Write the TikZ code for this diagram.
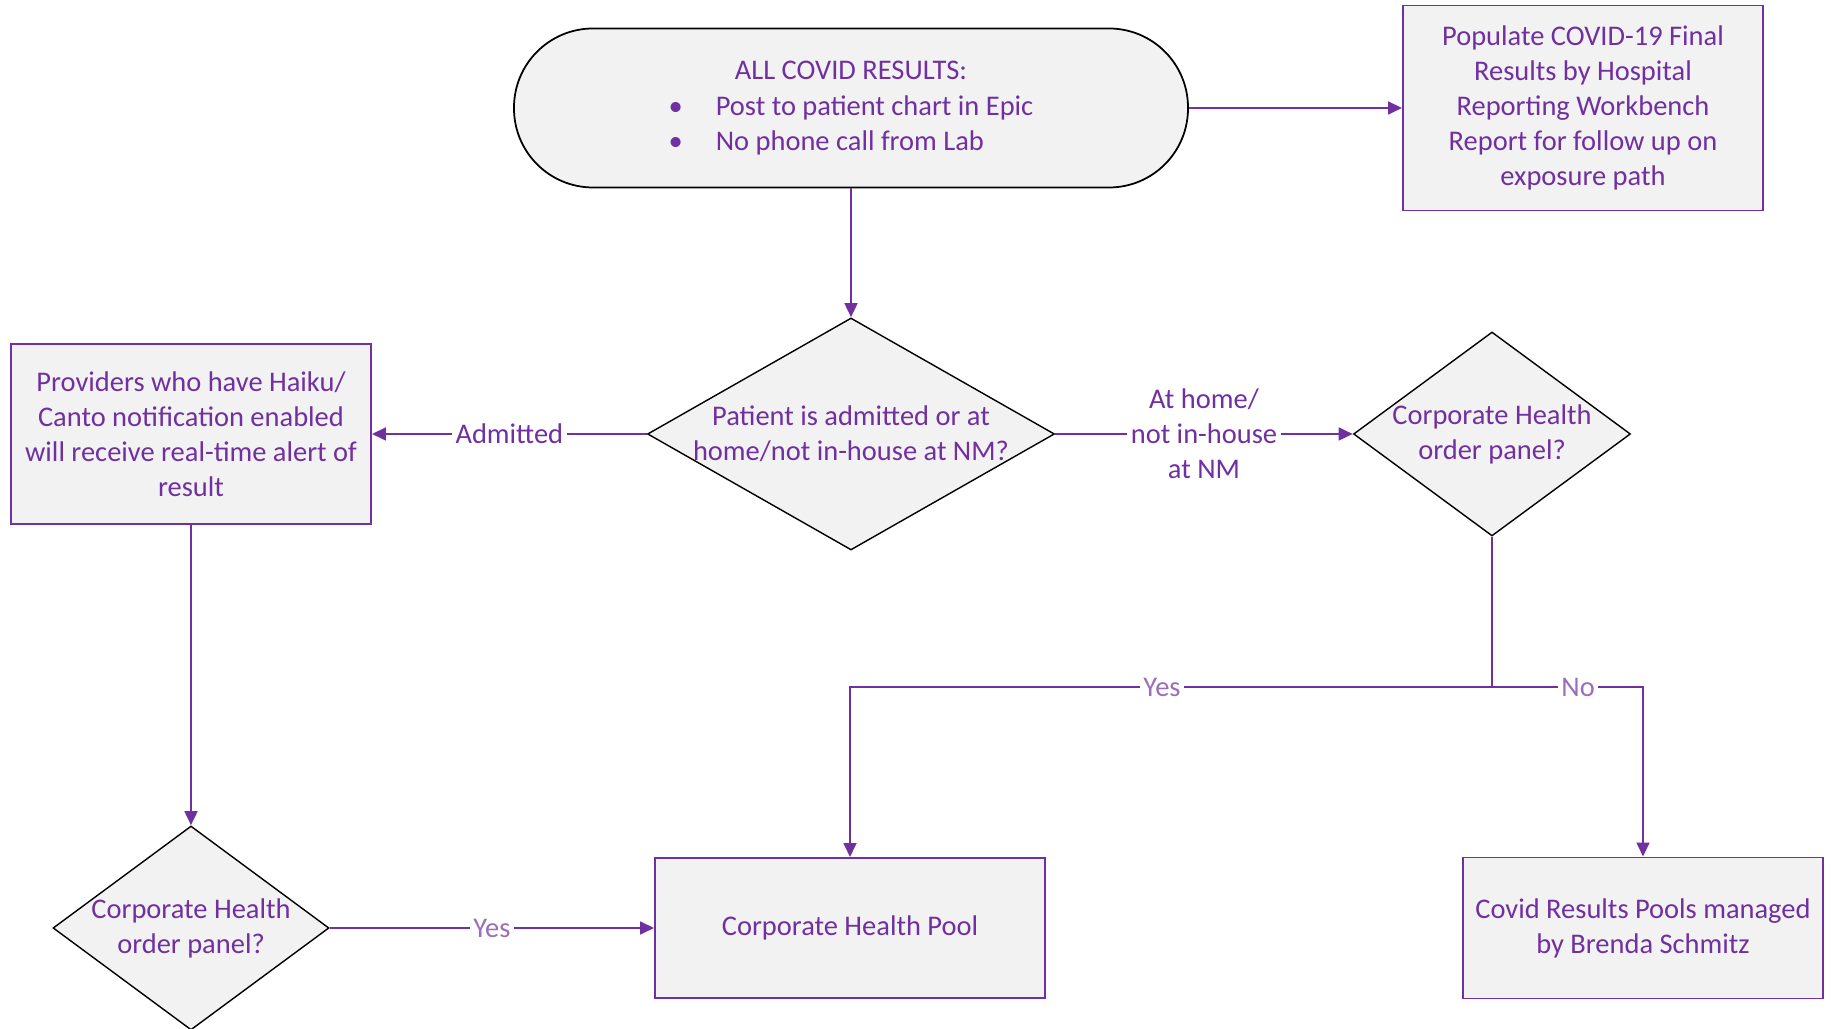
\documentclass[tikz,border=0pt]{standalone}
\usepackage{fontspec}
\setmainfont{Carlito}
\usetikzlibrary{shapes.geometric}
\usetikzlibrary{arrows.meta}

\definecolor{nmpurple}{HTML}{7030A0}
\definecolor{boxgray}{HTML}{F2F2F2}

\tikzset{
  txt/.style={text=nmpurple, font=\fontsize{8.1}{10}\selectfont},
  terminal/.style={txt, rectangle, rounded corners=0.79cm, draw=black, line width=0.5pt, fill=boxgray, minimum width=6.74cm, minimum height=1.59cm},
  process/.style={txt, rectangle, draw=nmpurple, line width=0.5pt, fill=boxgray, align=center},
  decision/.style={diamond, draw=black, line width=0.4pt, fill=boxgray, inner sep=0pt},
  dtext/.style={txt, align=center},
  arr/.style={draw=nmpurple, line width=0.75pt, -{Triangle[length=4pt,width=3.6pt]}},
  link/.style={draw=nmpurple, line width=0.75pt},
  lbl/.style={txt, fill=white, inner sep=1pt, align=center},
  lbllight/.style={lbl, text=nmpurple!70},
}

\begin{document}
\begin{tikzpicture}

\useasboundingbox (0,0) rectangle (18.35,-10.29);

% Start
\node[terminal] (start) at (8.51,-1.08) {\begin{tabular}{@{}l@{\hspace{0.33cm}}l@{}}\multicolumn{2}{c}{ALL COVID RESULTS:}\\ \textbullet & Post to patient chart in Epic\\ \textbullet & No phone call from Lab\end{tabular}};

% Report
\node[process, minimum width=3.6cm, minimum height=2.05cm] (report) at (15.83,-1.08) {Populate COVID-19 Final\\Results by Hospital\\Reporting Workbench\\Report for follow up on\\exposure path};

% Admitted or at home
\node[decision, minimum width=4.07cm, minimum height=2.32cm, label={[dtext]center:{Patient is admitted or at\\home/not in-house at NM?}}] (where) at (8.51,-4.34) {};

% Alert
\node[process, minimum width=3.6cm, minimum height=1.8cm] (alert) at (1.91,-4.34) {Providers who have Haiku/\\Canto notification enabled\\will receive real-time alert of\\result};

% Order panel
\node[decision, minimum width=2.77cm, minimum height=2.04cm, label={[dtext]center:{Corporate Health\\order panel?}}] (corp1) at (14.92,-4.34) {};
\node[decision, minimum width=2.76cm, minimum height=2.04cm, label={[dtext]center:{Corporate Health\\order panel?}}] (corp2) at (1.91,-9.28) {};

% Pools
\node[process, minimum width=3.9cm, minimum height=1.4cm] (pool) at (8.50,-9.28) {Corporate Health Pool};
\node[process, minimum width=3.6cm, minimum height=1.41cm] (brenda) at (16.43,-9.28) {Covid Results Pools managed\\by Brenda Schmitz};

\coordinate (fork) at (14.92,-6.87);

% Connectors
\draw[arr] (start) -- (report);
\draw[arr] (start) -- (where);
\draw[arr] (where) -- node[lbl] {Admitted} (alert);
\draw[arr] (where) -- node[lbl] {At home/\\not in-house\\at NM} (corp1);
\draw[link] (corp1) -- (fork);
\draw[arr] (fork) -| node[lbllight, pos=0.257] {Yes} (pool);
\draw[arr] (fork) -| node[lbllight, pos=0.285] {No} (brenda);
\draw[arr] (alert) -- (corp2);
\draw[arr] (corp2) -- node[lbllight] {Yes} (pool);

\end{tikzpicture}
\end{document}
